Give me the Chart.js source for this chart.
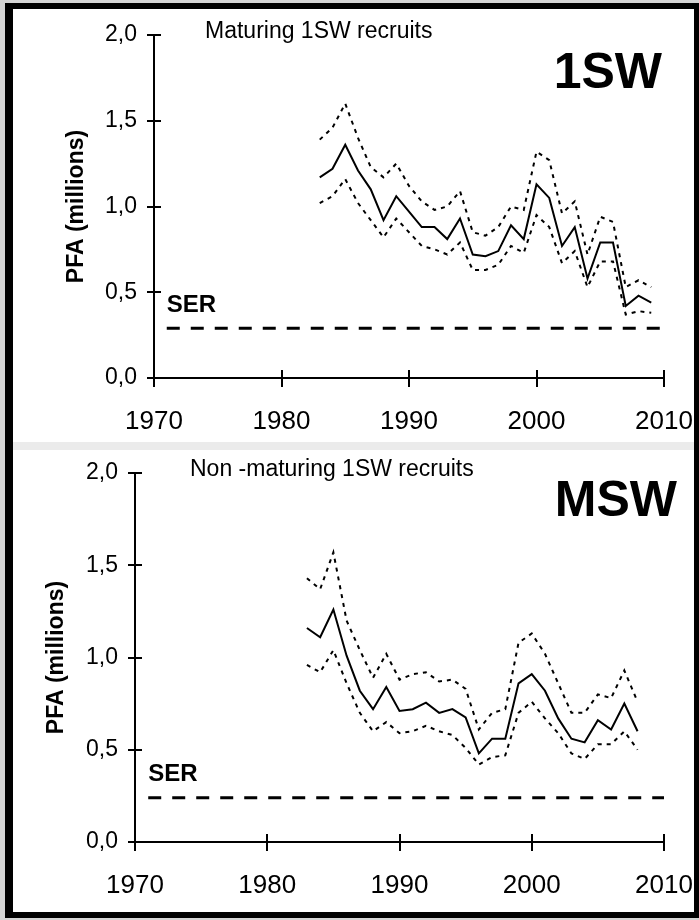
<!DOCTYPE html>
<html>
<head>
<meta charset="utf-8">
<script src="https://cdn.jsdelivr.net/npm/chart.js@4.4.1/dist/chart.umd.min.js"></script>
<style>
  html, body { margin: 0; padding: 0; }
  body { width: 699px; height: 920px; background: #d4d4d4; position: relative; overflow: hidden; }
  #frame {
    position: absolute; left: 5px; top: 3px; width: 694px; height: 915px;
    box-sizing: border-box; background: #fff;
    border-left: 8px solid #000; border-top: 6px solid #000;
    border-bottom: 6px solid #000; border-right: 5px solid #000;
  }
  #band { position: absolute; left: 0; top: 433px; width: 681px; height: 8px; background: #ebebeb; }
  #chart1 { position: absolute; left: 0; top: 0; }
  #chart2 { position: absolute; left: 0; top: 441px; }
</style>
</head>
<body>
<div id="frame">
  <canvas id="chart1" width="681" height="433"></canvas>
  <div id="band"></div>
  <canvas id="chart2" width="681" height="462"></canvas>
</div>
<script>
// data
const years1SW = [1983, 1984, 1985, 1986, 1987, 1988, 1989, 1990, 1991, 1992, 1993, 1994, 1995, 1996, 1997, 1998, 1999, 2000, 2001, 2002, 2003, 2004, 2005, 2006, 2007, 2008, 2009];
const pfa1SW   = [1.17, 1.22, 1.36, 1.21, 1.10, 0.92, 1.06, 0.97, 0.88, 0.88, 0.81, 0.93, 0.72, 0.71, 0.74, 0.89, 0.81, 1.13, 1.05, 0.77, 0.88, 0.58, 0.79, 0.79, 0.42, 0.48, 0.44];
const upper1SW = [1.39, 1.46, 1.60, 1.40, 1.23, 1.17, 1.25, 1.12, 1.03, 0.98, 1.00, 1.09, 0.85, 0.83, 0.88, 1.00, 0.98, 1.32, 1.27, 0.96, 1.03, 0.72, 0.94, 0.91, 0.53, 0.57, 0.53];
const lower1SW = [1.02, 1.06, 1.16, 1.02, 0.92, 0.82, 0.93, 0.85, 0.77, 0.75, 0.72, 0.79, 0.63, 0.63, 0.66, 0.77, 0.73, 0.95, 0.88, 0.67, 0.74, 0.53, 0.68, 0.68, 0.37, 0.39, 0.38];
const ser1SW = 0.29;

const yearsMSW = [1983, 1984, 1985, 1986, 1987, 1988, 1989, 1990, 1991, 1992, 1993, 1994, 1995, 1996, 1997, 1998, 1999, 2000, 2001, 2002, 2003, 2004, 2005, 2006, 2007, 2008];
const pfaMSW   = [1.16, 1.11, 1.26, 1.01, 0.82, 0.72, 0.84, 0.71, 0.72, 0.755, 0.70, 0.72, 0.675, 0.48, 0.56, 0.56, 0.86, 0.91, 0.82, 0.67, 0.56, 0.54, 0.66, 0.61, 0.75, 0.60];
const upperMSW = [1.43, 1.37, 1.57, 1.20, 1.04, 0.89, 1.02, 0.88, 0.91, 0.92, 0.87, 0.88, 0.83, 0.61, 0.70, 0.72, 1.08, 1.13, 1.02, 0.86, 0.70, 0.70, 0.80, 0.78, 0.93, 0.76];
const lowerMSW = [0.96, 0.92, 1.04, 0.86, 0.70, 0.60, 0.65, 0.59, 0.60, 0.63, 0.60, 0.58, 0.51, 0.42, 0.46, 0.47, 0.70, 0.76, 0.67, 0.59, 0.48, 0.45, 0.53, 0.53, 0.60, 0.50];
const serMSW = 0.24;

const serYears = [1971, 2010];
const xTickLabels = ['1970', '1980', '1990', '2000', '2010'];
const yTickLabels = ['0,0', '0,5', '1,0', '1,5', '2,0'];

const FONT = '"Liberation Sans", Arial, sans-serif';

function pts(xs, ys) {
  return xs.map(function (x, i) { return { x: x, y: ys[i] }; });
}

// tick marks crossing the axes, SER label, subtitle and big title
const decor = {
  id: 'decor',
  afterDraw(chart, args, o) {
    const ctx = chart.ctx;
    const area = chart.chartArea;
    const x = chart.scales.x, y = chart.scales.y;
    ctx.save();
    ctx.strokeStyle = '#000';
    ctx.lineWidth = 2;
    ctx.beginPath();
    y.ticks.forEach(function (t) {
      const py = Math.round(y.getPixelForValue(t.value));
      ctx.moveTo(area.left - 7, py);
      ctx.lineTo(area.left + 7, py);
    });
    x.ticks.forEach(function (t) {
      const px = Math.round(x.getPixelForValue(t.value));
      ctx.moveTo(px, area.bottom - 8);
      ctx.lineTo(px, area.bottom + 9);
    });
    ctx.stroke();

    ctx.fillStyle = '#000';
    ctx.textBaseline = 'middle';
    ctx.textAlign = 'left';
    ctx.font = 'bold 24px ' + FONT;
    ctx.fillText('SER', x.getPixelForValue(serYears[0]), y.getPixelForValue(o.ser) - 23);

    ctx.font = '23px ' + FONT;
    ctx.fillText(o.subtitle, o.subX, o.subY);

    ctx.textAlign = 'right';
    ctx.font = 'bold 50px ' + FONT;
    ctx.fillText(o.title, o.titleX, o.titleY);
    ctx.restore();
  }
};

function makeChart(id, d) {
  return new Chart(document.getElementById(id), {
    type: 'line',
    data: {
      datasets: [
        { data: pts(d.years, d.upper), borderColor: '#000', borderWidth: 2, borderDash: [4, 5] },
        { data: pts(d.years, d.lower), borderColor: '#000', borderWidth: 2, borderDash: [4, 5] },
        { data: pts(d.years, d.pfa), borderColor: '#000', borderWidth: 2 },
        { data: pts(serYears, [d.ser, d.ser]), borderColor: '#000', borderWidth: 3, borderDash: [13, 11] }
      ]
    },
    options: {
      responsive: false,
      animation: false,
      devicePixelRatio: 1,
      layout: { padding: { top: d.padTop, right: 30, left: 0, bottom: 0 } },
      elements: { point: { radius: 0 }, line: { tension: 0, fill: false } },
      plugins: {
        legend: { display: false },
        tooltip: { enabled: false },
        decor: { ser: d.ser, subtitle: d.subtitle, subX: d.subX, subY: d.subY, title: d.title, titleX: d.titleX, titleY: d.titleY }
      },
      scales: {
        x: {
          type: 'linear', min: 1970, max: 2010,
          grid: { display: false, drawTicks: false },
          border: { display: true, color: '#000', width: 2 },
          ticks: {
            stepSize: 10, maxRotation: 0, autoSkip: false, padding: 28, color: '#000',
            font: { family: FONT, size: 26 },
            callback: function (v, i) { return xTickLabels[i]; }
          },
          afterFit: function (s) { s.height = d.xHeight; s.paddingLeft = 0; s.paddingRight = 0; }
        },
        y: {
          min: 0, max: 2,
          grid: { display: false, drawTicks: false },
          border: { display: true, color: '#000', width: 2 },
          ticks: {
            stepSize: 0.5, padding: 17, color: '#000',
            font: { family: FONT, size: 23 },
            callback: function (v, i) { return yTickLabels[i]; }
          },
          title: {
            display: true, text: 'PFA (millions)', color: '#000',
            font: { family: FONT, size: 23, weight: 'bold' },
            padding: { top: d.titlePad, bottom: 0 }
          },
          afterFit: function (s) { s.width = d.yWidth; s.paddingTop = 0; s.paddingBottom = 0; }
        }
      }
    },
    plugins: [decor]
  });
}

makeChart('chart1', {
  years: years1SW, pfa: pfa1SW, upper: upper1SW, lower: lower1SW, ser: ser1SW,
  padTop: 26, xHeight: 64, yWidth: 141, titlePad: 50,
  subtitle: 'Maturing 1SW recruits', subX: 192, subY: 23,
  title: '1SW', titleX: 649, titleY: 65
});

makeChart('chart2', {
  years: yearsMSW, pfa: pfaMSW, upper: upperMSW, lower: lowerMSW, ser: serMSW,
  padTop: 23, xHeight: 70, yWidth: 122, titlePad: 30,
  subtitle: 'Non -maturing 1SW recruits', subX: 177, subY: 20,
  title: 'MSW', titleX: 664, titleY: 52
});
</script>
</body>
</html>
